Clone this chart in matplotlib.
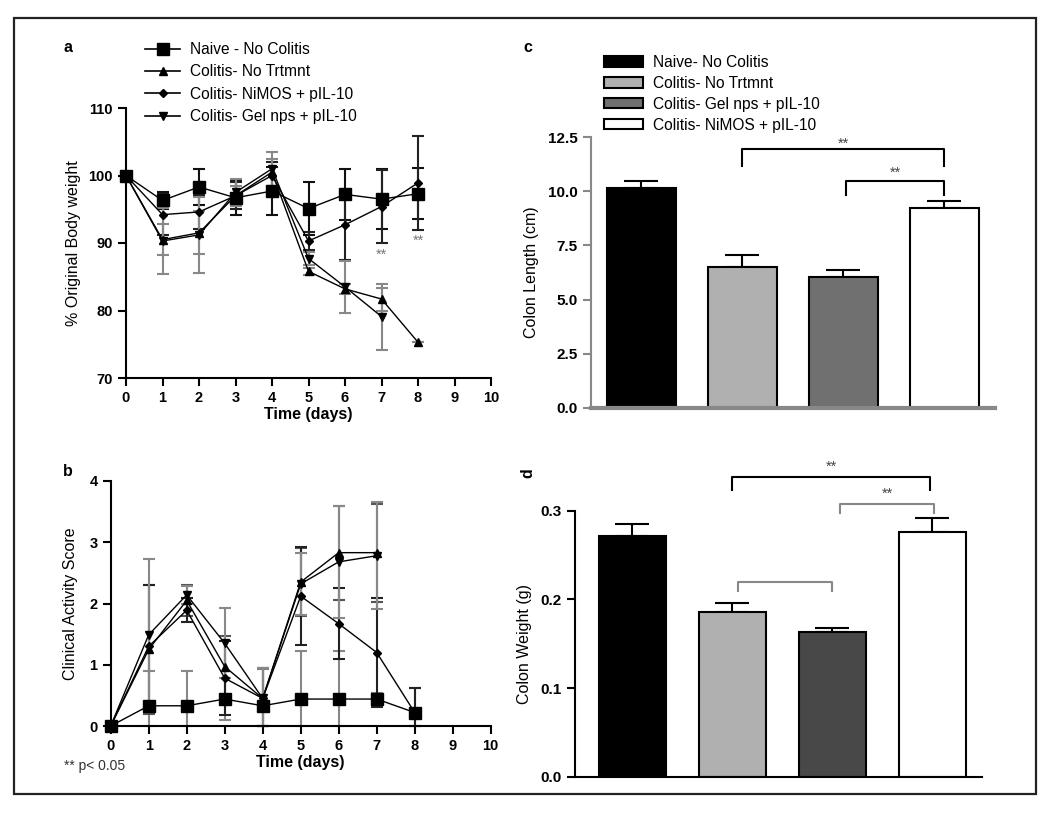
import matplotlib
matplotlib.use("Agg")
import matplotlib.pyplot as plt
from matplotlib.patches import Rectangle
from matplotlib.lines import Line2D
import numpy as np

plt.rcParams['font.family'] = ['Liberation Sans', 'DejaVu Sans']

# ---------------- data ----------------
days = [0, 1, 2, 3, 4, 5, 6, 7, 8]
series_names = ["Naive - No Colitis", "Colitis- No Trtmnt",
                "Colitis- NiMOS + pIL-10", "Colitis- Gel nps + pIL-10"]

# panel a: % original body weight
bw_naive = [100, 96.3, 98.3, 96.7, 97.7, 95.1, 97.2, 96.5, 97.3]
bw_naive_err = [0, 1.2, 2.6, 2.6, 3.5, 3.9, 3.8, 4.4, 3.8]
bw_notrt = [100, 90.5, 91.5, 97.0, 100.5, 85.8, 83.2, 81.7, 75.3]
bw_notrt_err = [0, 2.3, 3.2, 1.5, 2.0, 0.5, 0.8, 1.7, 0]
bw_nimos = [100, 94.2, 94.6, 97.0, 100.0, 90.3, 92.7, 95.4, 98.9]
bw_nimos_err = [0, 3.0, 2.5, 2.0, 2.0, 1.4, 5.2, 5.4, 7.0]
bw_gel = [100, 90.3, 91.2, 97.5, 101.0, 87.7, 83.5, 79.1]
bw_gel_err = [0, 4.9, 5.6, 2.0, 2.5, 1.0, 3.8, 4.9]

# panel b: clinical activity score
cas_naive = [0, 0.33, 0.33, 0.44, 0.33, 0.44, 0.44, 0.44, 0.22]
cas_naive_err = [0, 0.57, 0.57, 0.35, 0.6, 0.78, 0.78, 0.1, 0.4]
cas_notrt = [0, 1.25, 2.05, 0.97, 0.45, 2.35, 2.83, 2.83]
cas_notrt_err = [0, 1.05, 0.25, 0.5, 0.5, 0.55, 0.77, 0.8]
cas_nimos = [0, 1.3, 1.89, 0.78, 0.45, 2.12, 1.67, 1.2, 0.22]
cas_nimos_err = [0, 1.0, 0.2, 0.6, 0.5, 0.8, 0.58, 0.89, 0.4]
cas_gel = [0, 1.49, 2.14, 1.35, 0.45, 2.32, 2.68, 2.78]
cas_gel_err = [0, 1.24, 0.15, 0.57, 0.5, 0.5, 0.92, 0.87]

# panels c, d
bar_names = ["Naive- No Colitis", "Colitis- No Trtmnt",
             "Colitis- Gel nps + pIL-10", "Colitis- NiMOS + pIL-10"]
colon_length = [10.15, 6.5, 6.05, 9.25]
colon_length_err = [0.35, 0.54, 0.32, 0.31]
colon_weight = [0.272, 0.1857, 0.1635, 0.2763]
colon_weight_err = [0.013, 0.0105, 0.0042, 0.0151]

bar_colors_c = ["#000000", "#b0b0b0", "#707070", "#ffffff"]
bar_colors_d = ["#000000", "#b0b0b0", "#484848", "#ffffff"]

W, H = 1050, 815
fig = plt.figure(figsize=(10.5, 8.15), dpi=100)

def ax_rect(l, r, b, t):
    return [l / W, 1 - b / H, (r - l) / W, (b - t) / H]

# figure border
fig.add_artist(Rectangle((14 / W, 1 - 794 / H), (1036 - 14) / W, (794 - 18) / H,
                         transform=fig.transFigure, fill=False, lw=1.6, ec='#222222'))

TICK_FS = 10.5
YLAB_FS = 11.5

def style_line_axes(ax):
    for s in ['top', 'right']:
        ax.spines[s].set_visible(False)
    for s in ['left', 'bottom']:
        ax.spines[s].set_linewidth(1.5)
    ax.tick_params(direction='out', length=6, width=1.5, labelsize=TICK_FS)
    for lab in ax.get_xticklabels() + ax.get_yticklabels():
        lab.set_fontweight('bold')

markers = ['s', '^', 'D', 'v']
msizes = [9, 6, 4.5, 6]

# ---------------- panel a ----------------
axa = fig.add_axes(ax_rect(126, 491, 378, 108))
a_data = [(bw_naive, bw_naive_err), (bw_notrt, bw_notrt_err),
          (bw_nimos, bw_nimos_err), (bw_gel, bw_gel_err)]
a_ecol = ['#111111', '#888888', '#222222', '#888888']
for i, (y, e) in enumerate(a_data):
    x = days[:len(y)]
    axa.errorbar(x, y, yerr=e, fmt='none', ecolor=a_ecol[i], elinewidth=1.5,
                 capsize=4, capthick=1.5, clip_on=False, zorder=2)
    axa.plot(x, y, color='black', lw=1.0, marker=markers[i], ms=msizes[i],
             mec='black', mfc='black', clip_on=False, zorder=3)
axa.set_xlim(0, 10)
axa.set_ylim(70, 110)
axa.set_xticks(range(0, 11))
axa.set_yticks([70, 80, 90, 100, 110])
axa.set_xlabel("Time (days)", fontsize=11.5, fontweight='bold', labelpad=1)
axa.set_ylabel("% Original Body weight", fontsize=YLAB_FS, labelpad=5)
style_line_axes(axa)
axa.text(7, 88.3, "**", ha='center', va='center', color='#777777', fontsize=10.5)
axa.text(8, 90.4, "**", ha='center', va='center', color='#777777', fontsize=10.5)
handles = [Line2D([0], [0], color='black', lw=1.2, marker=markers[i], ms=msizes[i] * 0.9)
           for i in range(4)]
fig.legend(handles, series_names, loc='upper left',
           bbox_to_anchor=(145 / W, 1 - 42 / H), frameon=False, fontsize=11.2,
           handlelength=2.25, labelspacing=0.48, handletextpad=0.65,
           borderaxespad=0, borderpad=0)
fig.text(68 / W, 1 - 47 / H, "a", fontsize=11.5, fontweight='bold', ha='center', va='center')

# ---------------- panel b ----------------
axb = fig.add_axes(ax_rect(110.7, 490.7, 726, 481))
b_data = [(cas_naive, cas_naive_err), (cas_notrt, cas_notrt_err),
          (cas_nimos, cas_nimos_err), (cas_gel, cas_gel_err)]
b_ecol = ['#888888', '#555555', '#222222', '#888888']
for i, (y, e) in enumerate(b_data):
    x = days[:len(y)]
    ya = np.array(y)
    ea = np.array(e)
    lower = np.minimum(ea, ya)
    axb.errorbar(x, y, yerr=[lower, ea], fmt='none', ecolor=b_ecol[i], elinewidth=1.5,
                 capsize=4, capthick=1.5, clip_on=False, zorder=2)
    axb.plot(x, y, color='black', lw=1.0, marker=markers[i], ms=msizes[i],
             mec='black', mfc='black', clip_on=False, zorder=3)
axb.set_xlim(0, 10)
axb.set_ylim(0, 4)
axb.set_xticks(range(0, 11))
axb.set_yticks([0, 1, 2, 3, 4])
axb.set_xlabel("Time (days)", fontsize=11.5, fontweight='bold', labelpad=1)
axb.set_ylabel("Clinical Activity Score", fontsize=YLAB_FS, labelpad=8)
style_line_axes(axb)
fig.text(68 / W, 1 - 472 / H, "b", fontsize=11.5, fontweight='bold', ha='center', va='center')
fig.text(64 / W, 1 - 766 / H, "** p< 0.05", fontsize=10, ha='left', va='center', color='#333333')

# ---------------- panel c ----------------
axc = fig.add_axes(ax_rect(590.7, 995, 407.7, 137.3))
xb = np.arange(4)
axc.bar(xb, colon_length, width=0.68, color=bar_colors_c, edgecolor='black', lw=1.5, zorder=2)
axc.errorbar(xb, colon_length, yerr=[[0] * 4, colon_length_err], fmt='none', ecolor='black',
             elinewidth=1.5, capsize=12, capthick=1.5, zorder=1)
axc.set_xlim(-0.5, 3.5)
axc.set_ylim(0, 12.5)
axc.set_yticks([0, 2.5, 5.0, 7.5, 10.0, 12.5])
axc.set_yticklabels(["0.0", "2.5", "5.0", "7.5", "10.0", "12.5"])
axc.set_xticks([])
for s in ['top', 'right']:
    axc.spines[s].set_visible(False)
axc.spines['left'].set_color('#888888')
axc.spines['left'].set_linewidth(1.5)
axc.spines['bottom'].set_color('#888888')
axc.spines['bottom'].set_linewidth(3)
axc.tick_params(axis='y', direction='out', length=6, width=1.5, color='#888888', labelsize=11)
for lab in axc.get_yticklabels():
    lab.set_fontweight('bold')
axc.set_ylabel("Colon Length (cm)", fontsize=YLAB_FS, labelpad=6)

def bracket(ax, x1, x2, y, yleg, color='black', star=None, ystar=None):
    ax.plot([x1, x1, x2, x2], [yleg, y, y, yleg], color=color, lw=1.5, clip_on=False)
    if star:
        ax.text((x1 + x2) / 2, ystar, star, ha='center', va='center', fontsize=10.5, color='#444444')

bracket(axc, 1, 3, 11.95, 11.17, star="**", ystar=12.2)
bracket(axc, 2.03, 3, 10.48, 9.83, star="**", ystar=10.87)

leg_handles = [Rectangle((0, 0), 1, 1, fc=c, ec='black', lw=1.5) for c in bar_colors_c]
fig.legend(leg_handles, bar_names, loc='upper left',
           bbox_to_anchor=(604 / W, 1 - 55 / H), frameon=False, fontsize=11.2,
           handlelength=2.5, handleheight=0.64, labelspacing=0.38, handletextpad=0.64,
           borderaxespad=0, borderpad=0)
fig.text(528 / W, 1 - 48 / H, "c", fontsize=11.5, fontweight='bold', ha='center', va='center')

# ---------------- panel d ----------------
axd = fig.add_axes(ax_rect(575, 982, 776.7, 510.7))
xd = np.arange(4)
axd.bar(xd, colon_weight, width=0.67, color=bar_colors_d, edgecolor='black', lw=1.5, zorder=2)
axd.errorbar(xd, colon_weight, yerr=[[0] * 4, colon_weight_err], fmt='none', ecolor='black',
             elinewidth=1.5, capsize=12, capthick=1.5, zorder=1)
axd.set_xlim(-0.57, 3.5)
axd.set_ylim(0, 0.3)
axd.set_yticks([0, 0.1, 0.2, 0.3])
axd.set_yticklabels(["0.0", "0.1", "0.2", "0.3"])
axd.set_xticks([])
for s in ['top', 'right']:
    axd.spines[s].set_visible(False)
axd.spines['left'].set_linewidth(1.5)
axd.spines['bottom'].set_linewidth(1.5)
axd.tick_params(axis='y', direction='out', length=6, width=1.5, labelsize=11)
for lab in axd.get_yticklabels():
    lab.set_fontweight('bold')
axd.set_ylabel("Colon Weight (g)", fontsize=YLAB_FS, labelpad=6)

bracket(axd, 1.0, 2.98, 0.3383, 0.3233, star="**", ystar=0.35)
bracket(axd, 2.08, 3.02, 0.3075, 0.2977, color='#888888', star="**", ystar=0.319)
bracket(axd, 1.06, 2.0, 0.22, 0.2098, color='#888888')
fig.text(528 / W, 1 - 473 / H, "d", fontsize=11.5, fontweight='bold', ha='center', va='center',
         rotation=90)

fig.savefig("out.png", dpi=100)
